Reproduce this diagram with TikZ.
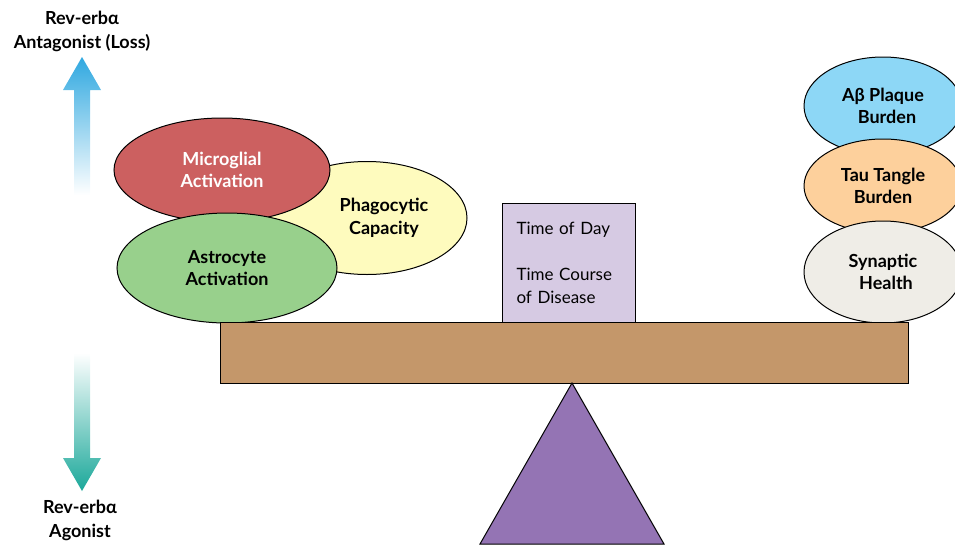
\documentclass[tikz,border=0pt]{standalone}
\usepackage{fontspec}
\setmainfont{Lato}
\usetikzlibrary{shapes.geometric}
\definecolor{microred}{HTML}{CC6060}
\definecolor{phagoyellow}{HTML}{FEFBBE}
\definecolor{astrogreen}{HTML}{98D08C}
\definecolor{beamtan}{HTML}{C4976A}
\definecolor{fulcrumviolet}{HTML}{9474B4}
\definecolor{timelilac}{HTML}{D6CAE3}
\definecolor{abblue}{HTML}{8DD7F6}
\definecolor{tauorange}{HTML}{FDD09C}
\definecolor{synapgrey}{HTML}{EFEDE7}
\definecolor{upblue}{HTML}{2FA8E0}
\definecolor{downteal}{HTML}{1BA89A}
\tikzset{
  blob/.style={ellipse, draw=black, line width=1pt, inner sep=0pt, align=center,
    font=\fontsize{18}{22.5}\selectfont\bfseries},
  sidelabel/.style={align=center, font=\fontsize{18}{24}\selectfont\bfseries},
  plank/.style={draw=black, line width=1pt},
}

\begin{document}
\begin{tikzpicture}[x=1pt, y=-1pt]
			%%%%% START %%%%%
			\useasboundingbox (0,0) rectangle (955,544);
			
			% arrows on the left
			\shade[top color=upblue, bottom color=white] (74,195) -- (74,90) -- (63,90) -- (82,57) -- (101,90) -- (90,90) -- (90,195) -- cycle;
			\shade[top color=white, bottom color=downteal] (74,353) -- (74,458) -- (63,458) -- (82,491) -- (101,458) -- (90,458) -- (90,353) -- cycle;
			\node[sidelabel] (antagonist) at (82,31) {Rev-erbα\\Antagonist (Loss)};
			\node[sidelabel] (agonist) at (80,520) {Rev-erbα\\Agonist};
			
			% left pan
			\node[blob, fill=phagoyellow, minimum width=200, minimum height=113] (phago) at (367,218) {\hspace*{34pt}Phagocytic\\\hspace*{34pt}Capacity};
			\node[blob, fill=microred, text=white, minimum width=216, minimum height=104] (microglia) at (222,170) {Microglial\\Activation};
			\node[blob, fill=astrogreen, minimum width=220, minimum height=110] (astro) at (227,268) {Astrocyte\\Activation};
			
			% right pan
			\node[blob, fill=abblue, minimum width=158, minimum height=98] (plaque) at (883,106) {Aβ Plaque\\\hspace*{8pt}Burden};
			\node[blob, fill=tauorange, minimum width=158, minimum height=94] (tangle) at (883,186) {Tau Tangle\\Burden};
			\node[blob, fill=synapgrey, minimum width=158, minimum height=102] (synapse) at (883,272) {Synaptic\\\hspace*{6pt}Health};
			
			% weight in the middle
			\node[draw=black, line width=1pt, fill=timelilac, minimum width=133, minimum height=119,
			  text width=104pt, align=left, font=\fontsize{17}{23}\selectfont] (timebox) at (568.5,262.5)
			  {Time of Day\\[23pt]Time Course\\of Disease};
			
			% balance
			\draw[plank, fill=beamtan] (220,322) rectangle (908,383);
			\draw[plank, fill=fulcrumviolet] (572,383) -- (664,544) -- (480,544) -- cycle;
			%%%%% END %%%%%
\end{tikzpicture}
\end{document}
